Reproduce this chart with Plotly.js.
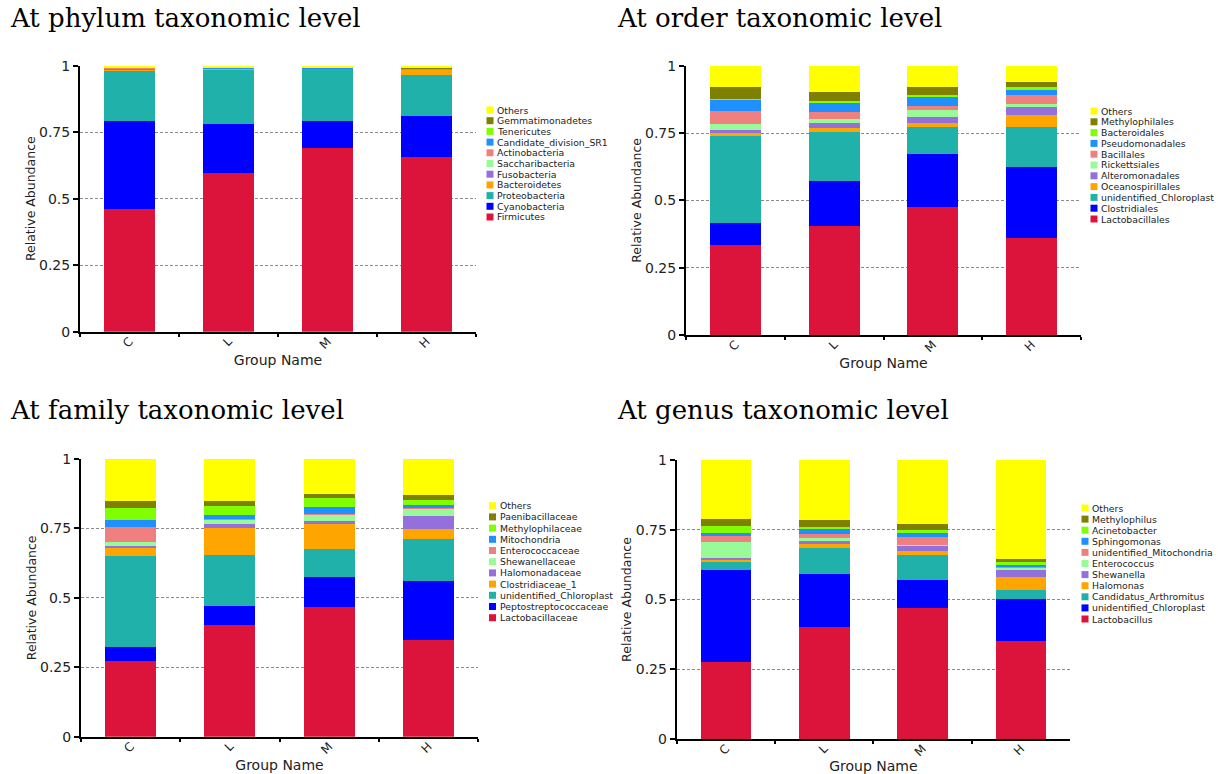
<!DOCTYPE html>
<html>
<head>
<meta charset="utf-8">
<script src="https://cdn.plot.ly/plotly-3.0.1.min.js"></script>
<style>
  html, body { margin: 0; padding: 0; background: #ffffff; }
  #chart { width: 1218px; height: 774px; }
</style>
</head>
<body>
<div id="chart"></div>
<script>
// ---------------- DATA ----------------
const groups = ['C', 'L', 'M', 'H'];

const taxonColors = ['#DC143C', '#0000FF', '#20B2AA', '#FFA500', '#9370DB',
                     '#98FB98', '#F08080', '#1E90FF', '#7FFF00', '#808000', '#FFFF00'];

// Phylum level (bottom -> top), values per group C, L, M, H
const phylumNames = ['Firmicutes', 'Cyanobacteria', 'Proteobacteria', 'Bacteroidetes', 'Fusobacteria',
  'Saccharibacteria', 'Actinobacteria', 'Candidate_division_SR1', 'Tenericutes', 'Gemmatimonadetes', 'Others'];
const phylumValues = [
  [0.460, 0.595, 0.689, 0.658],
  [0.331, 0.187, 0.102, 0.152],
  [0.189, 0.204, 0.195, 0.155],
  [0.008, 0.003, 0.002, 0.021],
  [0.003, 0.001, 0.001, 0.001],
  [0.001, 0.000, 0.000, 0.001],
  [0.002, 0.001, 0.001, 0.001],
  [0.001, 0.001, 0.001, 0.001],
  [0.000, 0.000, 0.000, 0.001],
  [0.000, 0.000, 0.000, 0.001],
  [0.005, 0.008, 0.009, 0.008]
];

// Order level
const orderNames = ['Lactobacillales', 'Clostridiales', 'unidentified_Chloroplast', 'Oceanospirillales',
  'Alteromonadales', 'Rickettsiales', 'Bacillales', 'Pseudomonadales', 'Bacteroidales', 'Methylophilales', 'Others'];
const orderValues = [
  [0.334, 0.406, 0.474, 0.359],
  [0.082, 0.165, 0.199, 0.264],
  [0.327, 0.184, 0.100, 0.150],
  [0.007, 0.015, 0.013, 0.044],
  [0.010, 0.016, 0.022, 0.034],
  [0.024, 0.015, 0.028, 0.007],
  [0.047, 0.027, 0.016, 0.033],
  [0.043, 0.038, 0.033, 0.019],
  [0.002, 0.002, 0.006, 0.012],
  [0.044, 0.033, 0.029, 0.018],
  [0.080, 0.099, 0.080, 0.060]
];

// Family level
const familyNames = ['Lactobacillaceae', 'Peptostreptococcaceae', 'unidentified_Chloroplast', 'Clostridiaceae_1',
  'Halomonadaceae', 'Shewanellaceae', 'Enterococcaceae', 'Mitochondria', 'Methylophilaceae', 'Paenibacillaceae', 'Others'];
const familyValues = [
  [0.273, 0.402, 0.468, 0.348],
  [0.051, 0.068, 0.108, 0.212],
  [0.328, 0.185, 0.100, 0.152],
  [0.030, 0.097, 0.090, 0.035],
  [0.004, 0.014, 0.012, 0.047],
  [0.014, 0.017, 0.021, 0.026],
  [0.054, 0.002, 0.002, 0.005],
  [0.026, 0.013, 0.027, 0.008],
  [0.044, 0.034, 0.033, 0.018],
  [0.024, 0.018, 0.012, 0.020],
  [0.152, 0.150, 0.127, 0.129]
];

// Genus level
const genusNames = ['Lactobacillus', 'unidentified_Chloroplast', 'Candidatus_Arthromitus', 'Halomonas',
  'Shewanella', 'Enterococcus', 'unidentified_Mitochondria', 'Sphingomonas', 'Acinetobacter', 'Methylophilus', 'Others'];
const genusValues = [
  [0.275, 0.403, 0.468, 0.350],
  [0.331, 0.188, 0.101, 0.152],
  [0.027, 0.092, 0.090, 0.031],
  [0.009, 0.015, 0.015, 0.048],
  [0.008, 0.014, 0.019, 0.028],
  [0.057, 0.007, 0.002, 0.003],
  [0.022, 0.015, 0.028, 0.008],
  [0.009, 0.019, 0.014, 0.004],
  [0.027, 0.008, 0.012, 0.012],
  [0.024, 0.024, 0.022, 0.009],
  [0.211, 0.215, 0.229, 0.355]
];

const yTickVals = [0, 0.25, 0.5, 0.75, 1];
const yTickText = ['0', '0.25', '0.5', '0.75', '1'];

// ---------------- LAYOUT HELPERS ----------------
const W = 1218, H = 774;
const px = x => x / W;
const py = y => 1 - y / H;

const panels = [
  { title: 'At phylum taxonomic level', names: phylumNames, values: phylumValues,
    xl: 80, xr: 476, yt: 65.7, yb: 331.7, tx: 8, ty: 18,
    legX: 486.5, legY: 110, legStep: 10.7 },
  { title: 'At order taxonomic level', names: orderNames, values: orderValues,
    xl: 686, xr: 1081, yt: 65.7, yb: 335, tx: 615, ty: 18,
    legX: 1090.5, legY: 111, legStep: 10.8 },
  { title: 'At family taxonomic level', names: familyNames, values: familyValues,
    xl: 81, xr: 478, yt: 459, yb: 736.7, tx: 8, ty: 410,
    legX: 489, legY: 505.7, legStep: 11.2 },
  { title: 'At genus taxonomic level', names: genusNames, values: genusValues,
    xl: 676.7, xr: 1070, yt: 460, yb: 739, tx: 615, ty: 410,
    legX: 1081.5, legY: 508, legStep: 11.1 }
];

const traces = [];
const shapes = [];
const annotations = [];
const layout = {
  width: W, height: H,
  margin: { l: 0, r: 0, t: 0, b: 0 },
  paper_bgcolor: '#ffffff', plot_bgcolor: '#ffffff',
  barmode: 'stack', bargap: 0.485,
  showlegend: false,
  font: { family: 'DejaVu Sans', color: '#222222' },
  shapes: shapes, annotations: annotations
};

panels.forEach((p, k) => {
  const sfx = k === 0 ? '' : String(k + 1);
  const xa = 'x' + sfx, ya = 'y' + sfx;

  p.names.forEach((name, i) => {
    traces.push({
      type: 'bar', name: name, x: groups, y: p.values[i],
      xaxis: xa, yaxis: ya,
      marker: { color: taxonColors[i], line: { width: 0 } },
      hovertemplate: name + ': %{y}<extra>%{x}</extra>'
    });
  });

  layout['xaxis' + sfx] = {
    domain: [px(p.xl), px(p.xr)], anchor: ya,
    type: 'category', categoryorder: 'array', categoryarray: groups,
    showline: true, linecolor: '#000000', linewidth: 2,
    ticks: 'outside', tickson: 'boundaries', ticklen: 3, tickwidth: 1.5, tickcolor: '#000',
    tickangle: -45, ticklabelstandoff: -4,
    tickfont: { family: 'DejaVu Sans', size: 12, color: '#222' },
    showgrid: false, zeroline: false,
    title: { text: 'Group Name', font: { family: 'DejaVu Sans', size: 14, color: '#222' }, standoff: 0 }
  };
  layout['yaxis' + sfx] = {
    domain: [py(p.yb), py(p.yt)], anchor: xa,
    range: [0, 1], tickvals: yTickVals, ticktext: yTickText,
    showline: true, linecolor: '#000000', linewidth: 2,
    ticks: 'outside', ticklen: 5, tickwidth: 1.5, tickcolor: '#000',
    tickfont: { family: 'DejaVu Sans', size: 14, color: '#222' },
    showgrid: true, gridcolor: '#8a8a8a', gridwidth: 1, griddash: '3px,2px',
    zeroline: false,
    title: { text: 'Relative Abundance', font: { family: 'DejaVu Sans', size: 12.5, color: '#222' }, standoff: 1 }
  };

  // panel title
  annotations.push({
    xref: 'paper', yref: 'paper', x: px(p.tx), y: py(p.ty),
    xanchor: 'left', yanchor: 'middle', showarrow: false,
    text: p.title, font: { family: 'DejaVu Serif', size: 26, color: '#000' }
  });

  // compact legend (top entry = last series)
  const n = p.names.length;
  for (let j = 0; j < n; j++) {
    const i = n - 1 - j;
    const cy = p.legY + j * p.legStep;
    shapes.push({
      type: 'rect', xref: 'paper', yref: 'paper',
      x0: px(p.legX), x1: px(p.legX + 7), y0: py(cy + 3.5), y1: py(cy - 3.5),
      fillcolor: taxonColors[i], line: { width: 0 }
    });
    annotations.push({
      xref: 'paper', yref: 'paper', x: px(p.legX + 8.5), y: py(cy),
      xanchor: 'left', yanchor: 'middle', showarrow: false,
      text: p.names[i], font: { family: 'DejaVu Sans', size: 9.3, color: '#222' }
    });
  }
});

Plotly.newPlot('chart', traces, layout, { displayModeBar: false, responsive: false });
</script>
</body>
</html>
